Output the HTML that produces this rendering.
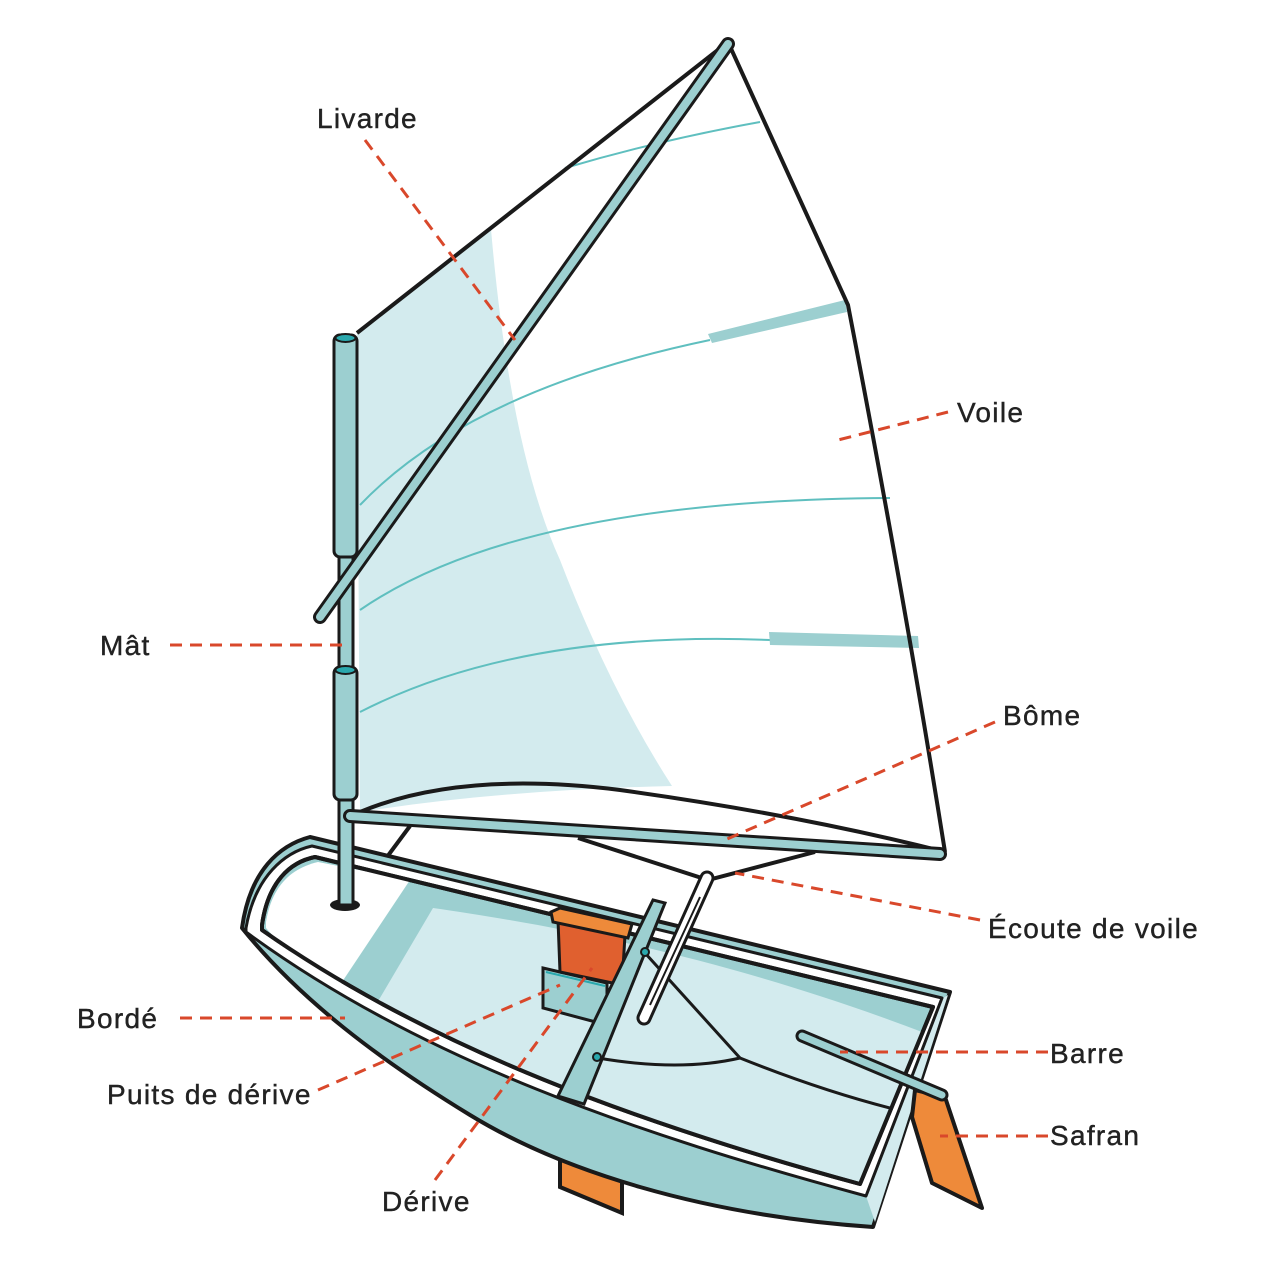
<!DOCTYPE html>
<html><head><meta charset="utf-8"><style>
html,body{margin:0;padding:0;background:#fff}
svg{display:block}
text{font-family:"Liberation Sans",sans-serif;font-size:28px;letter-spacing:1.3px;fill:#222;stroke:#222;stroke-width:0.4}
</style></head><body>
<svg width="1280" height="1280" viewBox="0 0 1280 1280" xmlns="http://www.w3.org/2000/svg">
<!-- sail -->
<path d="M357,333 L728,42 L848,305 Q905,600 945,852 Q650,800 360,812 Z" fill="#fff"/>
<path d="M357,333 L491,229 Q510,450 560,560 Q610,690 672,786 Q500,790 360,812 Z" fill="#d3ebee"/>
<g fill="none" stroke="#5fbfbf" stroke-width="2">
<path d="M565,168 Q660,140 760,122"/>
<path d="M360,505 Q470,390 710,340"/>
<path d="M360,610 Q520,500 890,498"/>
<path d="M360,712 Q520,630 770,640"/>
</g>
<path d="M708,334 L845,300 L847,312 L712,343 Z" fill="#9ccfd0"/>
<path d="M769,632 L918,636 L919,648 L770,645 Z" fill="#9ccfd0"/>
<path d="M357,333 L728,42 L848,305 Q905,600 945,852" fill="none" stroke="#1a1a1a" stroke-width="4"/>
<path d="M360,812 Q460,770 620,790 Q800,815 945,852" fill="none" stroke="#1a1a1a" stroke-width="4"/>
<!-- rigging lines -->
<g stroke="#1a1a1a" stroke-width="4" fill="none">
<path d="M410,826 L358,896"/>
<path d="M578,838 L708,880 L815,852"/>
</g>
<!-- daggerboard fin (behind hull) -->
<path d="M560,1150 L622,1165 L622,1213 L560,1187 Z" fill="#ee8a3a" stroke="#1a1a1a" stroke-width="4"/>
<!-- hull -->
<path d="M242,928 C250,870 280,845 310,837 L950,992 L873,1227 C700,1215 560,1170 470,1115 C380,1060 300,1000 242,928 Z" fill="#9ccfd0" stroke="#1a1a1a" stroke-width="4" stroke-linejoin="round"/>
<path d="M940,1000 L948,995 L875,1222 L866,1196 Z" fill="#d3ebee"/>
<path d="M246,928 C255,876 285,852 312,846 L942,998 L866,1196 C640,1135 420,1060 246,932 Z" fill="#fff" stroke="#1a1a1a" stroke-width="3" stroke-linejoin="round"/>
<path d="M262,925 C268,882 290,862 315,857 L933,1007 L860,1184 C640,1124 430,1048 262,930 Z" fill="#9ccfd0" stroke="#1a1a1a" stroke-width="4" stroke-linejoin="round"/>
<path d="M266,922 C272,885 292,868 318,862 L410,880 L340,985 C310,968 285,950 266,928 Z" fill="#fff"/>
<path d="M377,1003 L433,908 C550,925 720,955 922,1032 L860,1182 C640,1122 500,1070 377,1003 Z" fill="#d3ebee"/>
<path d="M262,925 C268,882 290,862 315,857 L933,1007 L860,1184 C640,1124 430,1048 262,930 Z" fill="none" stroke="#1a1a1a" stroke-width="4" stroke-linejoin="round"/>
<!-- traveller lines -->
<g fill="none" stroke="#1a1a1a" stroke-width="3">
<path d="M645,953 L740,1058"/>
<path d="M598,1058 Q680,1072 740,1058"/>
<path d="M740,1058 Q820,1090 890,1108"/>
</g>
<!-- dagger board case -->
<path d="M543,968 L607,983 L607,1025 L543,1008 Z" fill="#9ccfd0" stroke="#1a1a1a" stroke-width="3"/>
<line x1="546" y1="972" x2="605" y2="986" stroke="#2aa8ad" stroke-width="2"/>
<path d="M558,920 L625,935 L622,985 L560,972 Z" fill="#e0602f" stroke="#1a1a1a" stroke-width="3"/>
<path d="M551,912 L560,908 L632,924 L628,938 L553,922 Z" fill="#ee8a3a" stroke="#1a1a1a" stroke-width="3"/>
<!-- thwart -->
<path d="M653,900 L665,903 L584,1104 L558,1096 Z" fill="#9ccfd0" stroke="#1a1a1a" stroke-width="3"/>
<circle cx="645" cy="952" r="4" fill="#2aa8ad" stroke="#1a1a1a" stroke-width="2"/>
<circle cx="597" cy="1057" r="4" fill="#2aa8ad" stroke="#1a1a1a" stroke-width="2"/>
<!-- mainsheet post -->
<line x1="707" y1="878" x2="644" y2="1018" stroke="#1a1a1a" stroke-width="15" stroke-linecap="round"/>
<line x1="707" y1="878" x2="644" y2="1018" stroke="#fff" stroke-width="9" stroke-linecap="round"/>
<line x1="700" y1="897" x2="650" y2="1005" stroke="#1a1a1a" stroke-width="2"/>
<!-- rudder & tiller -->
<path d="M915,1090 L945,1097 L982,1208 L932,1183 L912,1117 Z" fill="#ee8a3a" stroke="#1a1a1a" stroke-width="4" stroke-linejoin="round"/>
<line x1="802" y1="1036" x2="942" y2="1095" stroke="#1a1a1a" stroke-width="13" stroke-linecap="round"/>
<line x1="802" y1="1036" x2="942" y2="1095" stroke="#9ccfd0" stroke-width="7" stroke-linecap="round"/>
<!-- mast -->
<ellipse cx="345" cy="905" rx="15" ry="6" fill="#1a1a1a"/>
<rect x="339" y="550" width="14" height="355" fill="#9ccfd0" stroke="#1a1a1a" stroke-width="3"/>
<rect x="334" y="335" width="23" height="222" rx="6" fill="#9ccfd0" stroke="#1a1a1a" stroke-width="3"/>
<ellipse cx="345.5" cy="338" rx="10" ry="4" fill="#2aa8ad" stroke="#1a1a1a" stroke-width="2"/>
<rect x="334" y="667" width="23" height="133" rx="6" fill="#9ccfd0" stroke="#1a1a1a" stroke-width="3"/>
<ellipse cx="345.5" cy="670" rx="10" ry="4" fill="#2aa8ad" stroke="#1a1a1a" stroke-width="2"/>
<!-- sprit -->
<line x1="320" y1="617" x2="728" y2="44" stroke="#1a1a1a" stroke-width="14" stroke-linecap="round"/>
<line x1="320" y1="617" x2="728" y2="44" stroke="#9ccfd0" stroke-width="8" stroke-linecap="round"/>
<!-- boom -->
<line x1="350" y1="816" x2="940" y2="854" stroke="#1a1a1a" stroke-width="14" stroke-linecap="round"/>
<line x1="350" y1="816" x2="940" y2="854" stroke="#9ccfd0" stroke-width="8" stroke-linecap="round"/>
<!-- leaders -->
<g stroke="#d9482b" stroke-width="3" stroke-dasharray="12 8" fill="none">
<line x1="365" y1="140" x2="515" y2="340"/>
<line x1="948" y1="412" x2="838" y2="440"/>
<line x1="170" y1="645" x2="345" y2="645"/>
<line x1="995" y1="722" x2="725" y2="840"/>
<line x1="980" y1="920" x2="735" y2="873"/>
<line x1="180" y1="1018" x2="345" y2="1018"/>
<line x1="1048" y1="1052" x2="840" y2="1052"/>
<line x1="318" y1="1090" x2="560" y2="985"/>
<line x1="1048" y1="1136" x2="940" y2="1136"/>
<line x1="435" y1="1180" x2="592" y2="968"/>
</g>
<text x="317" y="128">Livarde</text>
<text x="957" y="422">Voile</text>
<text x="100" y="655">Mât</text>
<text x="1003" y="725">Bôme</text>
<text x="988" y="938">Écoute de voile</text>
<text x="77" y="1028">Bordé</text>
<text x="1050" y="1063">Barre</text>
<text x="107" y="1104">Puits de dérive</text>
<text x="1050" y="1145">Safran</text>
<text x="382" y="1211">Dérive</text>
</svg>
</body></html>
